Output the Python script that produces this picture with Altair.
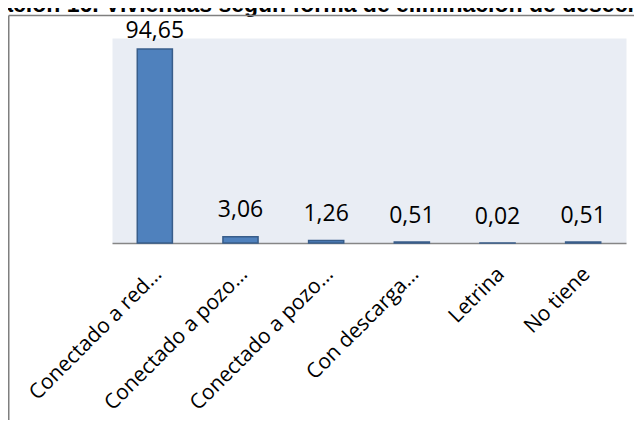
import altair as alt
import pandas as pd

# ---- data ----
labels = ["Conectado a red…", "Conectado a pozo…", "Conectado a pozo…",
          "Con descarga…", "Letrina", "No tiene"]
values = [94.65, 3.06, 1.26, 0.51, 0.02, 0.51]
value_text = ["94,65", "3,06", "1,26", "0,51", "0,02", "0,51"]
title_text = "Ilustración 16. Viviendas según forma de eliminación de desechos"

df = pd.DataFrame({
    "idx": list(range(len(labels))),
    "label": labels,
    "value": values,
    "text": value_text,
})

label_expr = "[" + ",".join("'" + l + "'" for l in labels) + "][datum.value]"

x_enc = alt.X(
    "idx:O",
    scale=alt.Scale(paddingInner=0.59, paddingOuter=0.295),
    axis=alt.Axis(
        title=None, labelExpr=label_expr, labelAngle=315, labelAlign="right",
        labelBaseline="top", labelPadding=20, labelOffset=-4, ticks=False,
        grid=False, domainColor="#868686", domainWidth=1.5,
        labelFont="Open Sans", labelFontSize=21, labelColor="#000000",
        labelOverlap=False, labelLimit=400,
    ),
)
y_scale = alt.Scale(domain=[0, 100], nice=False)

bars = alt.Chart(df).mark_bar(
    color="#4F81BD", stroke="#385D8A", strokeWidth=1.5
).encode(
    x=x_enc,
    y=alt.Y("value:Q", scale=y_scale, axis=None),
)

texts = alt.Chart(df).transform_calculate(
    label_y="min(datum.value + 9.4, 100)"
).mark_text(
    font="Open Sans", fontSize=23, baseline="alphabetic", color="#000000"
).encode(
    x=alt.X("idx:O"),
    y=alt.Y("label_y:Q", scale=y_scale, axis=None),
    text="text:N",
)

title = alt.Chart(pd.DataFrame({"t": [title_text]})).mark_text(
    font="Liberation Sans", fontSize=23, fontWeight="bold", align="left",
    baseline="alphabetic", color="#000000"
).encode(
    x=alt.value(-168), y=alt.value(-26), text="t:N"
)

frame_df = pd.DataFrame({"k": [0]})
frame_left = alt.Chart(frame_df).mark_rule(color="#7F7F7F", strokeWidth=1.5).encode(
    x=alt.value(-103.25), y=alt.value(-22.5), y2=alt.value(420)
)
frame_top = alt.Chart(frame_df).mark_rule(color="#7F7F7F", strokeWidth=1.5).encode(
    x=alt.value(-103.25), x2=alt.value(560), y=alt.value(-22.5)
)

chart = alt.layer(bars, texts, title, frame_left, frame_top).properties(
    width=514,
    height=205,
    padding={"left": 104, "top": 30, "right": 8, "bottom": 177},
    autosize=alt.AutoSizeParams(type="none"),
    background="#FFFFFF",
).configure_view(
    fill="#E9EDF4", strokeOpacity=0, clip=False
)

chart.save("out.html", embed_options={"renderer": "svg", "actions": False})
